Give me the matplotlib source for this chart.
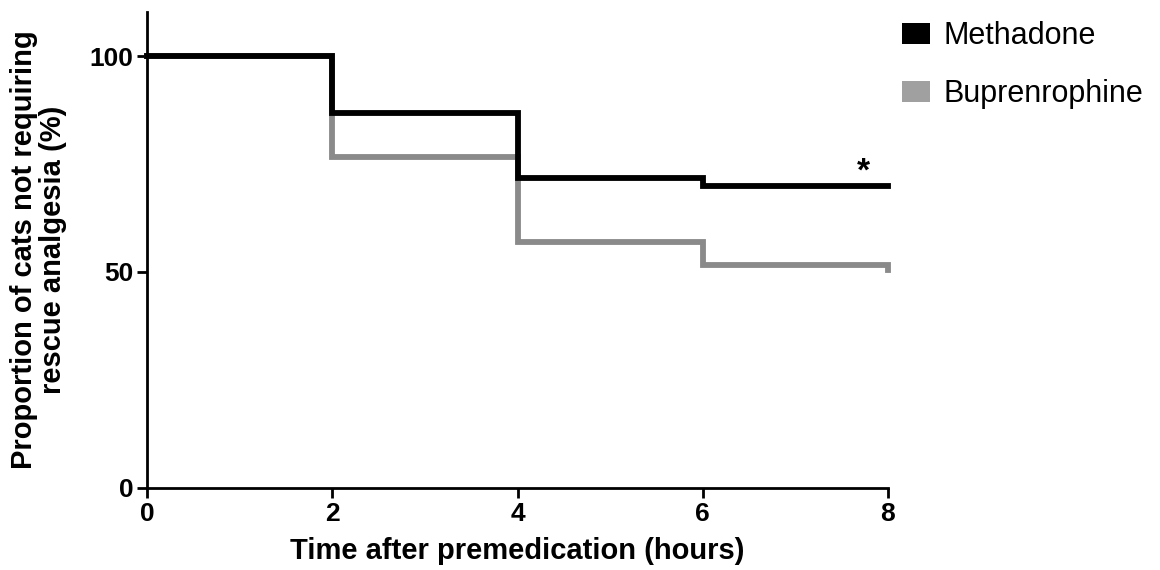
import matplotlib.pyplot as plt
from matplotlib.patches import Patch

# Kaplan-Meier style step data (hours, % not requiring rescue)
hours = [0, 2, 4, 6, 8]
methadone = [100, 86.7, 71.8, 70.0, 70.0]
bup_hours = [0, 2, 4, 6, 8, 8]
buprenorphine = [100, 76.7, 56.9, 51.6, 51.6, 50.4]

x_ticks = [0, 2, 4, 6, 8]
y_ticks = [0, 50, 100]
labels = ["Methadone", "Buprenrophine"]

plt.rcParams['font.family'] = ['Liberation Sans', 'DejaVu Sans']

fig = plt.figure(figsize=(11.6, 5.7), dpi=100)
ax = fig.add_axes([0.127, 0.144, 0.6385, 0.835])

ax.step(bup_hours, buprenorphine, where='post', color='#8a8a8a', lw=4.2,
        solid_joinstyle='miter', clip_on=False, zorder=2)
ax.step(hours, methadone, where='post', color='black', lw=4.2,
        solid_joinstyle='miter', clip_on=False, zorder=3)

ax.text(7.73, 69.6, "*", fontsize=24, fontweight='bold', ha='center', va='bottom')

ax.set_xlim(0, 8)
ax.set_ylim(0, 110.2)
ax.set_xticks(x_ticks)
ax.set_yticks(y_ticks)
for s in ['top', 'right']:
    ax.spines[s].set_visible(False)
for s in ['left', 'bottom']:
    ax.spines[s].set_linewidth(2)
ax.tick_params(width=2, length=7, pad=3)
for t in ax.get_xticklabels() + ax.get_yticklabels():
    t.set_fontweight('bold')
    t.set_fontsize(19)

ax.set_xlabel("Time after premedication (hours)", fontsize=21, fontweight='bold', labelpad=8)
ax.set_ylabel("Proportion of cats not requiring\nrescue analgesia (%)", fontsize=21,
              fontweight='bold', labelpad=16, linespacing=1.05)

handles = [Patch(facecolor='black'), Patch(facecolor='#a0a0a0')]
fig.legend(handles, labels, loc='upper left', bbox_to_anchor=(0.764, 0.99), frameon=False,
           fontsize=22, handlelength=0.92, handleheight=0.7, handletextpad=0.45,
           labelspacing=0.92, borderpad=0)

fig.savefig("out.png", dpi=100)
